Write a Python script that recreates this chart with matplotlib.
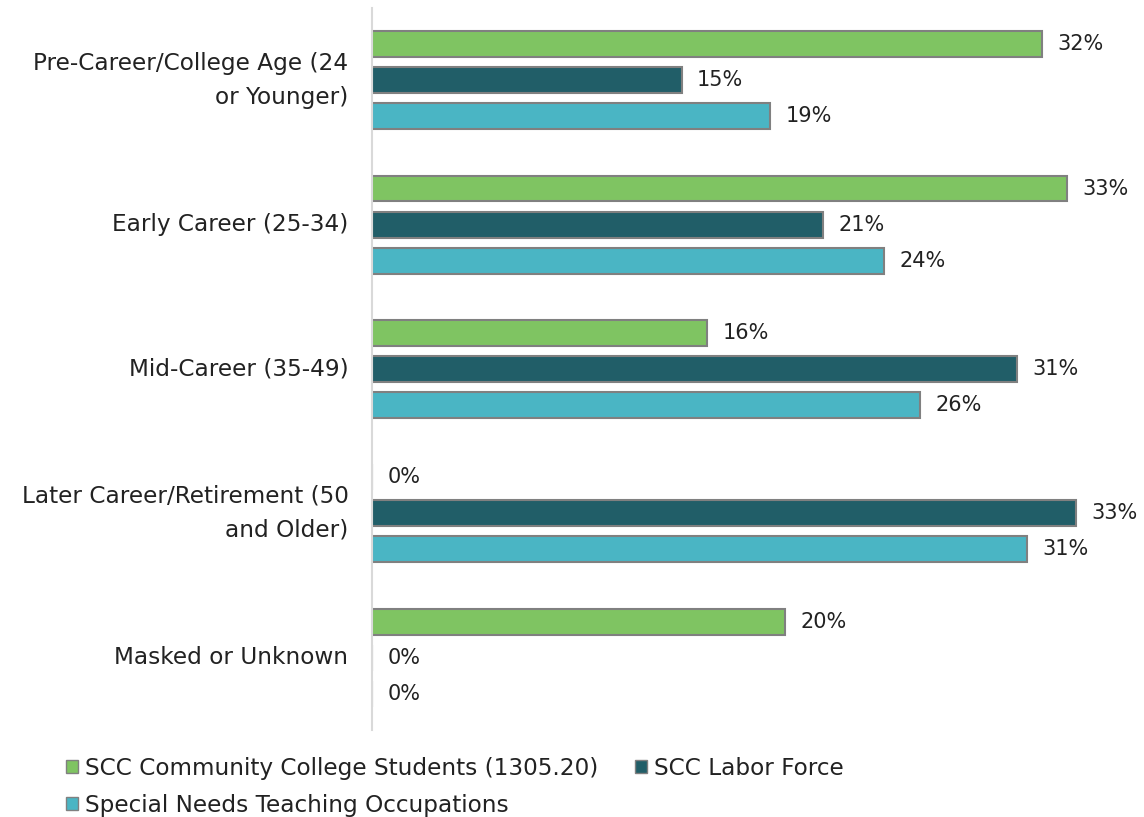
import numpy as np
import matplotlib
matplotlib.use("Agg")
import matplotlib.pyplot as plt
from matplotlib.patches import Patch

# category labels and series (percent)
categories = ["Pre-Career/College Age (24\nor Younger)", "Early Career (25-34)",
              "Mid-Career (35-49)", "Later Career/Retirement (50\nand Older)",
              "Masked or Unknown"]
students = [31.8, 33.0, 15.9, 0.0, 19.6]
labor = [14.7, 21.4, 30.6, 33.4, 0.0]
special = [18.9, 24.3, 26.0, 31.1, 0.0]
series_names = ["SCC Community College Students (1305.20)", "SCC Labor Force",
                "Special Needs Teaching Occupations"]
colors = ["#7fc462", "#215e68", "#4ab5c4"]

plt.rcParams['font.family'] = ['DejaVu Sans']
fontsize = 16.7
label_size = 15

fig = plt.figure(figsize=(11.44, 8.17), dpi=100)
ax = fig.add_axes([0.3252, 0.1065, 0.6447, 0.8837])

y = np.arange(len(categories))
offsets = [-0.25, 0.0, 0.25]
bar_h = 0.18
for vals, off, col in zip([students, labor, special], offsets, colors):
    bars = ax.barh(y + off, vals, height=bar_h, color=col, edgecolor="#808080", linewidth=1.5)
    for b, v in zip(bars, vals):
        ax.annotate("%d%%" % round(v), (b.get_width(), b.get_y() + b.get_height() / 2),
                    xytext=(11, 0), textcoords="offset points", va="center", ha="left",
                    fontsize=label_size, color="#222222", annotation_clip=False)

ax.set_xlim(0, 35)
ax.set_ylim(4.5, -0.5)
ax.set_yticks(y)
ax.set_yticklabels(categories, fontsize=fontsize, color="#222222", linespacing=1.6)
for lab in ax.get_yticklabels():
    lab.set_va("center")
ax.set_xticks([])
ax.tick_params(axis="y", length=0, pad=17)
for s in ["top", "right", "bottom"]:
    ax.spines[s].set_visible(False)
ax.spines["left"].set_color("#d9d9d9")
ax.spines["left"].set_linewidth(1.5)

# legend: reorder so that row 1 holds students + labor, row 2 special
handles = [Patch(facecolor=c, edgecolor="#808080", linewidth=1.0) for c in colors]
order = [0, 2, 1]
fig.legend([handles[i] for i in order], [series_names[i] for i in order],
           loc="upper left", bbox_to_anchor=(0.058, 0.074), ncol=2, frameon=False,
           fontsize=fontsize, handlelength=0.5, handleheight=0.5, handletextpad=0.3,
           columnspacing=1.6, labelspacing=0.62, borderaxespad=0, borderpad=0,
           labelcolor="#222222")

fig.savefig("out.png", dpi=100)
